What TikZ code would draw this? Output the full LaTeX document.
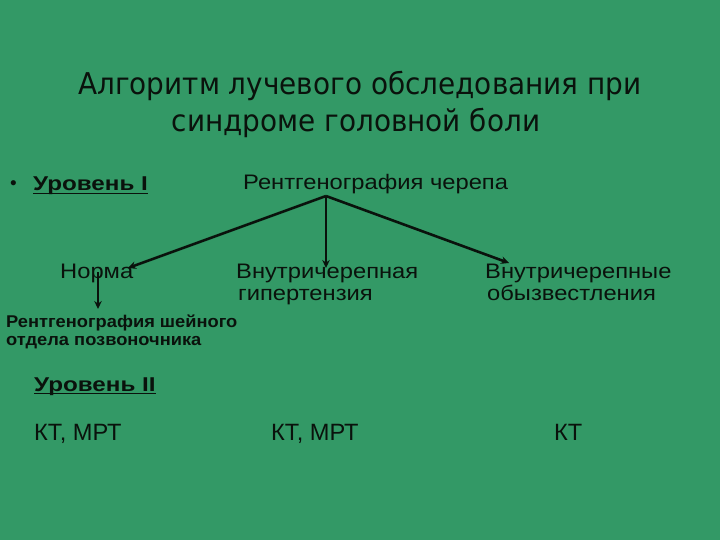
\documentclass[tikz,border=0pt]{standalone}
\usepackage{fontspec}
\setmainfont{Liberation Sans}
\newfontfamily\titlefont[FakeStretch=0.93]{DejaVu Sans}
\newfontfamily\widefont[FakeStretch=1.13]{Liberation Sans}
\newfontfamily\widebold[FakeStretch=1.21]{Liberation Sans Bold}
\newfontfamily\smallbold[FakeStretch=1.075]{Liberation Sans Bold}
\usetikzlibrary{arrows.meta}
\definecolor{bg}{RGB}{51,153,102}
\definecolor{ink}{RGB}{10,18,12}
\begin{document}
\begin{tikzpicture}[x=1pt,y=-1pt,
  txt/.style={anchor=base west,inner sep=0pt,text=ink},
  ctr/.style={anchor=base,inner sep=0pt,text=ink},
  reg/.style={txt,font=\widefont\fontsize{21}{24}\selectfont},
  lvl/.style={txt,font=\widebold\fontsize{20}{24}\selectfont},
  sml/.style={txt,font=\smallbold\fontsize{17}{20}\selectfont},
  ttl/.style={ctr,font=\titlefont\fontsize{30}{34}\selectfont},
  kt/.style={txt,font=\fontsize{23.6}{27}\selectfont},
  uline/.style={draw=ink,line width=1.6pt},
  conn/.style={draw=ink,line width=2.6pt,-{Stealth[length=8pt,width=7.5pt]}}]
\fill[bg] (0,0) rectangle (720,540);
\useasboundingbox (0,0) rectangle (720,540);
% title
\node[ttl] (t1) at (360,95) {Алгоритм лучевого обследования при};
\node[ttl] (t2) at (356,132) {синдроме головной боли};
% level I
\node[txt,font=\fontsize{19}{22}\selectfont] (bul) at (10,190) {•};
\node[lvl] (lv1) at (33,191) {Уровень I};
\draw[uline] ([yshift=-2.6pt]lv1.base west) -- ([yshift=-2.6pt]lv1.base east);
\node[reg] (rc) at (243,190) {Рентгенография черепа};
\node[reg] (norm) at (60,278) {Норма};
\node[reg] (vg1) at (236,278) {Внутричерепная};
\node[reg] (vg2) at (238,300) {гипертензия};
\node[reg] (vo1) at (485,278) {Внутричерепные};
\node[reg] (vo2) at (487,300) {обызвестления};
\node[sml] (rs1) at (6,327) {Рентгенография шейного};
\node[sml] (rs2) at (6,345) {отдела позвоночника};
% level II
\node[lvl] (lv2) at (34,391) {Уровень II};
\draw[uline] ([yshift=-2.6pt]lv2.base west) -- ([yshift=-2.6pt]lv2.base east);
\node[kt] (k1) at (34,440) {КТ, МРТ};
\node[kt] (k2) at (271,440) {КТ, МРТ};
\node[kt] (k3) at (554,440) {КТ};
% connectors
\coordinate (top) at (326,196);
\coordinate (eN) at (128,268);
\coordinate (eV) at (326,268);
\coordinate (eO) at (509,263);
\coordinate (sN) at (98,272);
\coordinate (eR) at (98,309);
\draw[conn] (top) -- (eN);
\draw[conn] (top) -- (eV);
\draw[conn] (top) -- (eO);
\draw[conn] (sN) -- (eR);
\end{tikzpicture}
\end{document}
